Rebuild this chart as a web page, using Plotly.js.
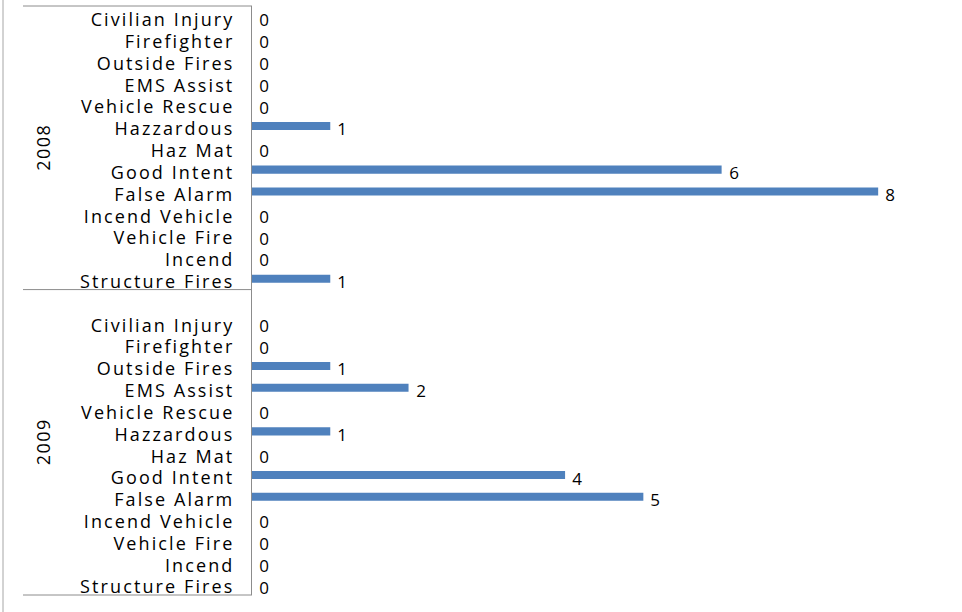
<!DOCTYPE html>
<html>
<head>
<meta charset="utf-8">
<script src="https://cdn.plot.ly/plotly-3.0.1.min.js"></script>
<style>
html, body { margin: 0; padding: 0; background: #fff; }
#chart { width: 962px; height: 612px; }
#chart .ytick text { letter-spacing: 2.1px; }
#chart .annotation-text { letter-spacing: 1.5px; }
</style>
</head>
<body>
<div id="chart"></div>
<script>
// ---- data ----
const categories = ["Civilian Injury", "Firefighter", "Outside Fires", "EMS Assist", "Vehicle Rescue", "Hazzardous", "Haz Mat", "Good Intent", "False Alarm", "Incend Vehicle", "Vehicle Fire", "Incend", "Structure Fires"];
const years = ["2008", "2009"];
const values2008 = [0, 0, 0, 0, 0, 1, 0, 6, 8, 0, 0, 0, 1];
const values2009 = [0, 0, 1, 2, 0, 1, 0, 4, 5, 0, 0, 0, 0];

// ---- build category rows (2008 group, blank slot, 2009 group) ----
const seriesByYear = { "2008": values2008, "2009": values2009 };
const rowIds = [], rowText = [], rowVals = [];
const groupRows = {};
years.forEach((yr, gi) => {
  const start = rowIds.length;
  if (gi > 0) { rowIds.push("gap" + yr); }
  categories.forEach((c, i) => {
    rowIds.push(yr + "|" + c);
    rowText.push(c);
    rowVals.push(seriesByYear[yr][i]);
  });
  groupRows[yr] = [start, rowIds.length];
});
const realIds = rowIds.filter(id => !id.startsWith("gap"));
const nRows = rowIds.length;

const font = "Open Sans, Lato, DejaVu Sans, sans-serif";
const gray = "#8c8c8c";

const trace = {
  type: "bar",
  orientation: "h",
  x: rowVals,
  y: realIds,
  marker: { color: "#4F81BD" },
  hoverinfo: "x",
  showlegend: false
};

const annotations = [];
rowVals.forEach((v, i) => {
  annotations.push({
    x: v, y: realIds[i], xref: "x", yref: "y",
    text: String(v), showarrow: false,
    xanchor: "left", yanchor: "middle", xshift: 7, yshift: -3, borderpad: 0,
    font: { family: font, size: 17, color: "#000" }
  });
});
years.forEach(yr => {
  const [s, e] = groupRows[yr];
  annotations.push({
    x: 0, xref: "paper", xanchor: "center", xshift: -209,
    y: 1 - ((s + e) / 2) / nRows, yref: "paper", yanchor: "middle",
    text: yr, textangle: -90, showarrow: false,
    font: { family: font, size: 18, color: "#000" }
  });
});

const shapes = [];
const boundaries = [0];
years.forEach(yr => boundaries.push(groupRows[yr][1]));
boundaries.forEach(b => {
  shapes.push({
    type: "line", xref: "paper", xsizemode: "pixel", xanchor: 0, x0: -229, x1: 0,
    yref: "paper", y0: 1 - b / nRows, y1: 1 - b / nRows,
    line: { color: gray, width: 1 }
  });
});
// outer left border
shapes.push({
  type: "line", xref: "paper", xsizemode: "pixel", xanchor: 0, x0: -249, x1: -249,
  yref: "paper", ysizemode: "pixel", yanchor: 0, y0: -30, y1: 640,
  line: { color: "#a6a6a6", width: 1 }
});

const layout = {
  width: 962, height: 612,
  margin: { l: 252, r: 22, t: 6, b: 17, pad: 0 },
  paper_bgcolor: "#fff", plot_bgcolor: "#fff",
  bargap: 0.63,
  font: { family: font, size: 18, color: "#000" },
  xaxis: {
    range: [0, 8.79], showgrid: false, zeroline: false, showline: false,
    showticklabels: false, ticks: "", fixedrange: true
  },
  yaxis: {
    type: "category", categoryorder: "array", categoryarray: rowIds,
    range: [nRows - 0.5, -0.5],
    tickmode: "array", tickvals: realIds, ticktext: rowText,
    showgrid: false, zeroline: false, showline: true, linecolor: gray, linewidth: 1,
    ticks: "", ticklabelstandoff: 13, ticklabelshift: -3,
    tickfont: { family: font, size: 18, color: "#000" }
  },
  annotations: annotations,
  shapes: shapes
};

Plotly.newPlot("chart", [trace], layout, { displayModeBar: false, staticPlot: true });
</script>
</body>
</html>
